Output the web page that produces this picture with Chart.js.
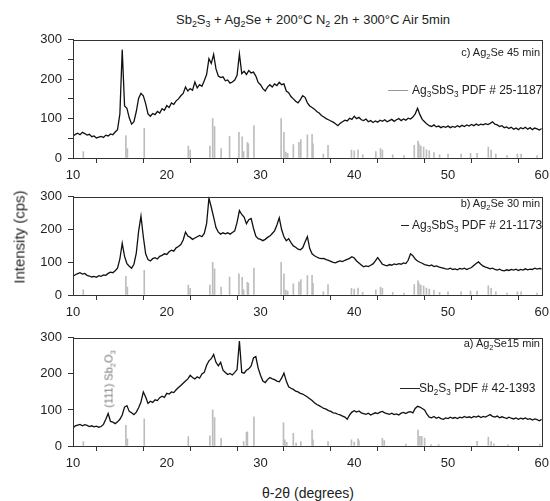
<!DOCTYPE html>
<html><head><meta charset="utf-8">
<script src="https://cdn.jsdelivr.net/npm/chart.js@4.4.0/dist/chart.umd.min.js"></script>
<style>
html,body{margin:0;padding:0;background:#fff;overflow:hidden;width:550px;height:501px;font-family:"Liberation Sans",Arial,sans-serif;color:#222}
body{position:relative}
.cv{position:absolute;left:0}
.t{position:absolute;white-space:nowrap;line-height:1}
sub{font-size:68%;vertical-align:-0.35em;line-height:0}
.leg{position:absolute;height:0;border-top:1px solid #222}
.rot{position:absolute;white-space:nowrap;line-height:1;transform:translate(-50%,-50%) rotate(-90deg)}
</style></head>
<body>
<div class="t" style="left:313px;top:13px;transform:translateX(-50%);font-size:13px">Sb<sub>2</sub>S<sub>3</sub> + Ag<sub>2</sub>Se + 200°C N<sub>2</sub> 2h + 300°C Air 5min</div>

<canvas id="cC" class="cv" width="554" height="162" style="top:26px"></canvas>
<canvas id="cB" class="cv" width="554" height="142" style="top:183px"></canvas>
<canvas id="cA" class="cv" width="554" height="152" style="top:324px"></canvas>

<div class="t" style="right:10px;top:47px;font-size:11px">c) Ag<sub>2</sub>Se 45 min</div>
<div class="leg" style="left:388px;width:20px;top:90px;border-color:#999"></div>
<div class="t" style="left:412px;top:84px;font-size:12px">Ag<sub>3</sub>SbS<sub>3</sub> PDF # 25-1187</div>

<div class="t" style="right:10px;top:198px;font-size:11px">b) Ag<sub>2</sub>Se 30 min</div>
<div class="leg" style="left:401px;width:8px;top:225px"></div>
<div class="t" style="left:412px;top:219px;font-size:12px">Ag<sub>3</sub>SbS<sub>3</sub> PDF # 21-1173</div>

<div class="t" style="right:10px;top:338px;font-size:11px">a) Ag<sub>2</sub>Se15 min</div>
<div class="leg" style="left:400px;width:20px;top:388px"></div>
<div class="t" style="left:419px;top:382px;font-size:12px">Sb<sub>2</sub>S<sub>3</sub> PDF # 42-1393</div>

<div class="rot" style="left:109px;top:379px;font-size:11px;color:#777">(111) Sb<sub>2</sub>O<sub>3</sub></div>
<div class="rot" style="left:19px;top:237px;font-size:15px">Intensity (cps)</div>
<div class="t" style="left:308px;top:486px;transform:translateX(-50%);font-size:14px">θ-2θ (degrees)</div>

<script>
const theta = [10,10.25,10.5,10.75,11,11.25,11.5,11.75,12,12.25,12.5,12.75,13,13.25,13.5,13.75,14,14.25,14.5,14.75,15,15.25,15.5,15.75,16,16.25,16.5,16.75,17,17.25,17.5,17.75,18,18.25,18.5,18.75,19,19.25,19.5,19.75,20,20.25,20.5,20.75,21,21.25,21.5,21.75,22,22.25,22.5,22.75,23,23.25,23.5,23.75,24,24.25,24.5,24.75,25,25.25,25.5,25.75,26,26.25,26.5,26.75,27,27.25,27.5,27.75,28,28.25,28.5,28.75,29,29.25,29.5,29.75,30,30.25,30.5,30.75,31,31.25,31.5,31.75,32,32.25,32.5,32.75,33,33.25,33.5,33.75,34,34.25,34.5,34.75,35,35.25,35.5,35.75,36,36.25,36.5,36.75,37,37.25,37.5,37.75,38,38.25,38.5,38.75,39,39.25,39.5,39.75,40,40.25,40.5,40.75,41,41.25,41.5,41.75,42,42.25,42.5,42.75,43,43.25,43.5,43.75,44,44.25,44.5,44.75,45,45.25,45.5,45.75,46,46.25,46.5,46.75,47,47.25,47.5,47.75,48,48.25,48.5,48.75,49,49.25,49.5,49.75,50,50.25,50.5,50.75,51,51.25,51.5,51.75,52,52.25,52.5,52.75,53,53.25,53.5,53.75,54,54.25,54.5,54.75,55,55.25,55.5,55.75,56,56.25,56.5,56.75,57,57.25,57.5,57.75,58,58.25,58.5,58.75,59,59.25,59.5,59.75,60];

// c) Ag2Se 45 min
const intensityC = [
56,60,63,59,65,62,58,60,54,56,
51,53,55,52,58,56,61,59,66,72,
112,275,132,126,102,86,92,118,152,164,
158,138,112,106,113,110,118,114,125,121,
133,128,140,136,145,150,158,164,180,170,
176,172,193,178,186,182,196,212,252,240,
263,226,208,204,206,196,198,190,193,198,
210,264,214,220,212,222,216,218,208,192,
186,176,170,180,186,180,188,184,192,186,
188,170,166,156,150,144,140,148,158,154,
140,132,128,124,118,114,108,104,100,97,
94,91,87,82,88,92,96,94,101,98,
106,100,103,97,95,99,92,95,90,94,
91,96,93,97,92,95,98,93,97,100,
95,99,96,101,99,104,112,126,110,98,
92,86,82,80,84,79,81,77,80,78,
81,77,80,78,82,79,83,80,84,81,
85,82,86,83,86,84,87,85,88,92,
86,84,80,82,77,79,75,78,73,76,
72,77,74,78,73,77,72,76,74,71,
75];

// b) Ag2Se 30 min
const intensityB = [
57,62,65,68,64,66,60,58,55,57,
54,59,57,61,60,66,70,68,74,82,
110,158,118,96,88,82,94,128,195,241,
178,126,108,104,111,114,110,118,121,126,
124,132,137,134,144,148,154,168,192,180,
176,170,174,178,182,178,188,218,296,268,
238,206,192,186,190,187,190,186,191,196,
222,258,246,238,218,230,234,204,180,172,
170,166,170,176,180,188,196,214,236,200,
178,166,172,160,150,146,140,138,144,162,
178,142,126,120,116,113,111,112,108,106,
103,100,98,102,104,102,106,109,112,117,
113,104,98,92,86,89,87,91,95,104,
114,104,94,91,89,93,91,95,93,96,
94,98,96,106,126,120,110,104,100,97,
93,91,89,92,87,89,86,84,82,80,
79,82,78,80,77,81,79,82,78,81,
84,90,96,101,94,88,85,83,80,82,
78,76,79,75,74,77,75,78,76,79,
75,78,76,80,77,79,78,82,79,81,
80];

// a) Ag2Se 15 min
const intensityA = [
50,56,58,60,56,59,57,54,56,53,
55,52,54,60,74,90,68,66,62,67,
74,86,108,112,96,92,87,94,106,122,
150,136,118,124,121,128,126,134,138,135,
146,144,150,148,156,162,168,174,180,186,
196,190,186,192,188,200,204,224,236,242,
254,232,222,232,210,204,198,201,197,204,
212,291,204,202,210,214,222,244,248,216,
196,180,176,184,190,186,184,180,178,188,
202,180,164,160,157,152,150,146,144,140,
136,131,126,120,115,112,108,104,102,98,
96,92,91,88,86,83,80,74,86,94,
98,94,97,92,90,88,91,86,89,92,
90,94,96,92,90,88,91,87,89,86,
91,93,90,94,95,92,104,110,108,104,
100,88,80,78,82,77,80,76,74,78,
76,80,77,79,76,80,78,82,79,81,
78,82,80,83,79,82,80,84,87,82,
80,83,78,81,79,76,80,77,75,78,
74,77,75,78,74,76,72,75,73,70,
74];

// Ag3SbS3 reference sticks
const agPos = [11.1,15.64,15.8,17.6,22.3,22.5,24.6,24.9,25.1,25.8,26.7,27.7,28.05,28.2,28.6,28.7,29.3,32.2,32.5,32.7,32.9,33.5,34.1,34.3,35.0,35.5,35.6,36.7,37.2,39.7,40.0,40.4,40.9,42.3,42.8,43.0,44.1,45.3,46.4,46.8,46.9,47.1,47.4,47.7,48.0,48.5,49.1,50.0,51.4,52.4,53.1,54.3,54.6,55.1,56.3,57.4,57.8,59.5];
const agInt = [16,57,24,75,30,20,30,100,80,24,55,65,54,16,39,36,82,100,65,15,12,34,40,47,59,60,36,10,32,20,18,21,8,16,24,20,8,6,32,43,36,30,28,21,18,14,8,10,10,12,12,28,20,10,6,10,10,6];

// Sb2S3 reference sticks
const sbPos = [11.1,15.64,15.8,17.6,22.3,24.6,24.9,25.1,25.8,28.2,28.5,28.6,29.3,32.45,32.6,32.8,33.5,33.8,34.3,35.5,35.6,37.2,39.7,40.0,40.4,40.5,43.0,43.2,45.5,46.8,47.0,47.2,47.5,48.2,49.0,53.1,54.3,54.6,54.9,56.4,59.8];
const sbInt = [12,57,20,75,26,28,100,79,21,12,37,39,81,64,17,10,35,8,12,44,17,12,17,11,20,14,21,15,5,44,27,27,22,4,4,13,25,12,6,3,5];

const FONT = '"Liberation Sans", Arial, sans-serif';
const frame = {
  id: 'frame',
  afterDraw(chart) {
    const {ctx, chartArea: a} = chart;
    ctx.save();
    ctx.strokeStyle = '#333';
    ctx.lineWidth = 1;
    ctx.strokeRect(Math.round(a.left) + 0.5, Math.round(a.top) + 0.5, Math.round(a.right - a.left), Math.round(a.bottom - a.top));
    ctx.restore();
  }
};

function makeChart(id, yVals, sPos, sInt) {
  new Chart(document.getElementById(id), {
    type: 'line',
    data: {
      datasets: [
        {type: 'line', data: theta.map((x, i) => ({x, y: yVals[i]})), borderColor: '#111', borderWidth: 1.3, pointRadius: 0, tension: 0, order: 0},
        {type: 'bar', data: sPos.map((x, i) => ({x, y: sInt[i]})), backgroundColor: '#bdbdbd', barThickness: 1, order: 1}
      ]
    },
    options: {
      responsive: false, animation: false, events: [],
      layout: {padding: {top: 10, right: 0, bottom: 0, left: 0}},
      plugins: {legend: {display: false}, tooltip: {enabled: false}},
      scales: {
        x: {
          type: 'linear', min: 10, max: 60, offset: false,
          ticks: {stepSize: 5, autoSkip: false, maxRotation: 0, padding: 5, color: '#222', font: {size: 13, family: FONT},
                  callback: v => (v % 10 === 0 ? v : '')},
          grid: {drawOnChartArea: false, tickLength: 5, color: '#333'},
          border: {color: '#333'},
          afterFit(s) { s.height = 30; }
        },
        y: {
          min: 0, max: 300,
          ticks: {stepSize: 50, padding: 6, color: '#222', font: {size: 13, family: FONT},
                  callback: v => (v % 100 === 0 ? v : '')},
          grid: {drawOnChartArea: false, tickLength: 5, color: '#333'},
          border: {color: '#333'},
          afterFit(s) { s.width = 73; }
        }
      }
    },
    plugins: [frame]
  });
}

makeChart('cC', intensityC, agPos, agInt);
makeChart('cB', intensityB, agPos, agInt);
makeChart('cA', intensityA, sbPos, sbInt);
</script>
</body></html>
